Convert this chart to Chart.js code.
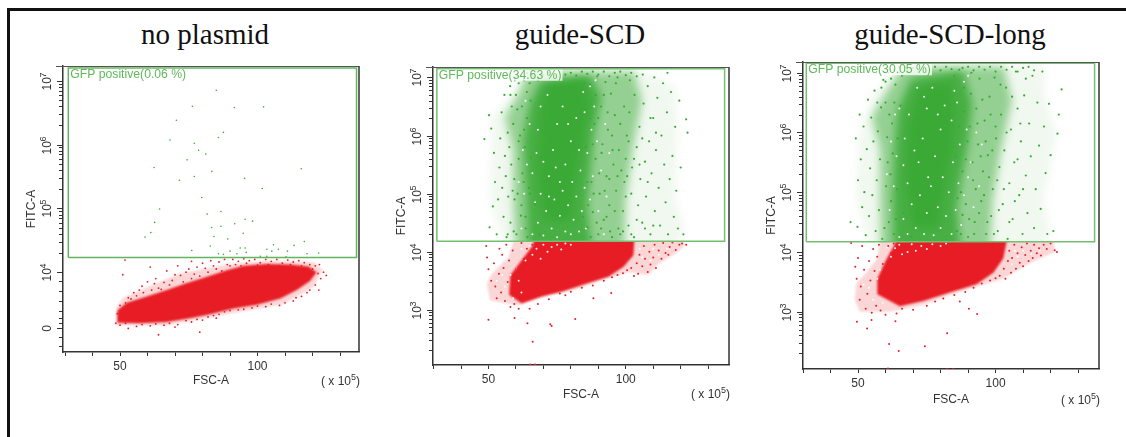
<!DOCTYPE html>
<html>
<head>
<meta charset="utf-8">
<title>GFP positive flow plots</title>
<script src="https://cdn.jsdelivr.net/npm/chart.js@4"></script>
<style>
    html, body { margin: 0; padding: 0; background: #fff; overflow: hidden; }
    #page { position: relative; width: 1126px; height: 437px; }
    #frame { position: absolute; left: 7px; top: 8px; width: 1119px; height: 429px; border-top: 3px solid #111; border-left: 3px solid #111; box-sizing: border-box; }
    .plotTitle { position: absolute; top: 18px; width: 300px; text-align: center; font: 29px "Liberation Serif", serif; color: #111; }
    canvas { position: absolute; }
    canvas.main { filter: blur(0.35px); }
    canvas.softRed { filter: blur(1.2px); }
    canvas.softGreen { filter: blur(4px); }
</style>
</head>
<body>
<div id="page">
    <div id="frame"></div>
    <div class="plotTitle" style="left:55px">no plasmid</div>
    <div class="plotTitle" style="left:430px">guide-SCD</div>
    <div class="plotTitle" style="left:800px">guide-SCD-long</div>

    <canvas id="noPlasmidRed" class="softRed" width="361" height="341" style="left:13px;top:56px"></canvas>
    <canvas id="plotNoPlasmid" class="main" width="361" height="341" style="left:13px;top:56px"></canvas>

    <canvas id="guideRed" class="softRed" width="361" height="353" style="left:383px;top:57px"></canvas>
    <canvas id="guideGreen" class="softGreen" width="361" height="353" style="left:383px;top:57px"></canvas>
    <canvas id="plotGuide" class="main" width="361" height="353" style="left:383px;top:57px"></canvas>

    <canvas id="longRed" class="softRed" width="361" height="362" style="left:753px;top:52px"></canvas>
    <canvas id="longGreen" class="softGreen" width="361" height="362" style="left:753px;top:52px"></canvas>
    <canvas id="plotGuideLong" class="main" width="361" height="362" style="left:753px;top:52px"></canvas>
</div>

<script>
// all y values are decades of FITC-A (4 means 10^4), x values are FSC-A in units of 10^5
const xTicks = [30, 40, 50, 60, 70, 80, 90, 100, 110, 120, 130];
const xLabels = [50, 100];
const minorSteps = [0.301, 0.477, 0.602, 0.699, 0.778, 0.845, 0.903, 0.954];

const gatePercents = ["0.06", "34.63", "30.05"];

// no plasmid
const noPlasmidMajor = [[7, "7"], [6, "6"], [5, "5"], [4, "4"], [3.13, "0"]];
const noPlasmidLow = [3.86, 3.7, 3.55, 3.39, 3.28, 3.2, 2.98, 2.84];
const noPlasmidGate = [[31.2, 4.23], [136, 4.23], [136, 7.2], [31.2, 7.2], [31.2, 4.23]];
const noPlasmidRedCore = [[49, 3.21], [57.3, 3.2], [67, 3.22], [74.3, 3.27], [81.6, 3.33], [91.3, 3.43], [99.8, 3.49], [108.3, 3.59], [114.3, 3.72], [119, 3.86], [121.5, 4.0], [118.6, 4.09], [111.9, 4.12], [103.4, 4.13], [94.9, 4.1], [88.8, 4.03], [81.6, 3.93], [74.3, 3.83], [67, 3.72], [59.7, 3.62], [52.4, 3.52], [49, 3.4]];
const noPlasmidRedFringe = [[48.6, 3.17], [67, 3.17], [88.8, 3.34], [109.4, 3.5], [120.3, 3.77], [123.7, 4.04], [120.3, 4.16], [103.4, 4.18], [88.8, 4.12], [71.8, 3.98], [59.7, 3.76], [51.2, 3.6], [48.8, 3.46]];
const noPlasmidRedDots = [[51.8, 4.19], [51, 3.96], [53, 3.6], [55, 3.68], [57, 3.72], [58, 3.78], [60, 3.85], [61, 4.08], [63, 3.9], [64, 3.75], [66, 3.84], [67, 4.02], [69, 3.87], [71, 4.1], [72, 3.95], [74, 4.0], [75, 4.05], [76, 4.17], [77, 3.97], [78, 4.08], [80, 4.14], [81, 4.06], [83, 4.18], [84, 4.1], [86, 4.16], [88, 4.2], [89, 4.12], [91, 4.2], [93, 4.17], [95, 4.21], [97, 4.18], [99, 4.2], [101, 4.15], [103, 4.2], [105, 4.17], [107, 4.2], [109, 4.14], [111, 4.19], [113, 4.16], [115, 4.18], [117, 4.15], [119, 4.12], [120, 4.05], [122, 3.98], [123, 3.9], [124, 4], [122.5, 4.12], [121, 3.8], [119, 3.72], [116, 3.62], [113, 3.55], [108, 3.48], [103, 3.46], [98, 3.44], [93, 3.41], [88, 3.38], [84, 3.32], [80, 3.25], [76, 3.22], [71, 3.18], [66, 3.17], [61, 3.16], [56, 3.15], [50, 3.17], [48.5, 3.2], [49, 3.35], [50, 3.48], [64, 3.02], [79, 3.06], [53, 3.12], [122.3, 3.72], [125, 3.95], [70, 3.14], [85, 3.28], [52, 3.52], [54, 3.58], [56, 3.63], [58.5, 3.68], [61.5, 3.72], [62.5, 3.82], [65, 3.73], [68, 3.8], [70, 3.96], [73, 3.85], [76, 3.9], [79, 3.94], [82, 4.0], [85, 4.05], [87, 4.02], [90, 4.1], [92, 4.12], [94, 4.1], [96, 4.14], [100, 4.11], [104, 4.12], [108, 4.1], [112, 4.12], [116, 4.1], [121, 4.1], [118, 3.68], [114, 3.6], [110, 3.52], [105, 3.5], [100, 3.47], [95, 3.42], [90, 3.4], [86, 3.34], [82, 3.3], [78, 3.26], [74, 3.24], [68, 3.2], [63, 3.19], [58, 3.18], [52, 3.2]];
const noPlasmidGreenDots = [[85, 6.85], [76.3, 6.6], [70.5, 6.38], [91.6, 6.58], [102.2, 6.59], [68.2, 6.07], [77, 6.02], [85.8, 6.11], [87.6, 6.19], [78.6, 5.91], [81.2, 5.85], [74.4, 5.76], [62.4, 5.64], [83.4, 5.58], [77, 5.5], [71.6, 5.44], [95.3, 5.47], [115.9, 5.62], [101.7, 5.31], [79.7, 5.17], [64.4, 4.99], [86.7, 4.95], [81.7, 4.91], [62.6, 4.78], [91.7, 4.76], [86.7, 4.72], [98.2, 4.8], [95.5, 4.83], [83.3, 4.7], [61.2, 4.62], [59.1, 4.55], [84.2, 4.56], [94.8, 4.61], [89.2, 4.52], [117, 4.48], [113.3, 4.42], [82.8, 4.41], [76.1, 4.34], [95.5, 4.38], [93.7, 4.38], [95.9, 4.31], [105.8, 4.43], [105.2, 4.33], [110.9, 4.33], [85.8, 4.29], [87.6, 4.28], [90, 4.33], [92.5, 4.29], [101, 4.25], [103.4, 4.25], [110.4, 4.24], [118, 4.29], [122.2, 4.3], [103.4, 4.36], [107.6, 4.36]];

// guide-SCD
const guideMajor = [[7, "7"], [6, "6"], [5, "5"], [4, "4"], [3, "3"]];
const guideGate = [[31.2, 4.18], [136, 4.18], [136, 7.15], [31.2, 7.15], [31.2, 4.18]];
const guideRedCore = [[57.5, 3.26], [62.1, 3.11], [69.4, 3.23], [76.7, 3.31], [86.4, 3.46], [93.7, 3.57], [99.2, 3.74], [102.8, 3.94], [103.4, 4.4], [68, 4.4], [66, 4.1], [62, 3.85], [58, 3.6]];
const guideRedFringe = [[49.4, 3.45], [50.6, 3.16], [60.9, 3.08], [71.8, 3.25], [81.6, 3.35], [91.3, 3.51], [101, 3.65], [108.3, 3.6], [111.9, 3.79], [118, 3.97], [121.6, 4.11], [120, 4.4], [60.5, 4.4], [57.3, 3.91], [51.2, 3.62]];
const guideRedDots = [[49.2, 4.1], [49.5, 3.9], [50, 3.7], [51, 3.5], [52, 3.8], [52.5, 3.4], [53, 3.2], [53.8, 3.62], [54, 4.05], [54.6, 3.3], [55, 3.95], [55.5, 3.72], [56, 3.15], [56.5, 4.12], [57, 3.48], [57.5, 3.85], [58, 3.05], [58.8, 4.02], [59.4, 3.1], [60, 3.7], [61, 3.02], [62, 4.15], [63, 3.88], [64, 4.05], [65, 3.02], [66, 4.12], [67, 3.95], [68, 3.1], [70, 4.08], [72, 3.18], [74, 4.13], [76, 3.28], [78, 3.25], [80, 3.31], [84, 3.38], [88, 3.42], [92, 3.5], [95, 3.56], [97, 3.6], [99, 3.63], [100.5, 3.68], [102, 3.72], [103, 3.58], [104, 3.8], [104.5, 3.62], [105, 3.95], [106, 3.75], [106.6, 4.1], [107, 3.88], [108, 3.65], [108.6, 4], [109, 3.78], [110, 3.9], [110.5, 4.12], [111, 3.72], [112, 4.02], [113, 3.88], [113.6, 4.15], [114.5, 3.98], [115.5, 3.95], [116, 4.08], [117, 4.16], [118.2, 4.03], [119.5, 4.12], [120.5, 4.14], [122, 4.12], [50, 2.83], [59.5, 2.86], [64.2, 2.77], [66.1, 2.45], [72.5, 2.75], [73, 2.72], [81.6, 2.84], [88.2, 3.2], [94.7, 3.29], [65.2, 2.06], [67, 2.06]];
const guideRedGaps = [[62, 4.05], [63.5, 3.85], [65, 4.1], [66, 3.95], [67.5, 4.05], [69, 3.88], [70, 4.12], [71.5, 4], [73, 4.08], [75, 4.12], [76.5, 4.04], [78, 4.14], [80, 4.12], [60, 3.7], [61, 3.5], [62, 3.3], [58, 3.6], [56, 3.4], [55, 3.6], [59, 3.2], [106, 3.9], [109, 3.85], [112, 3.95], [115, 4.05], [105, 4.05], [110, 4.05], [53, 3.5]];
const guideTopRed = [[78, 7.17], [112, 7.17]];
const guideTopRedDots = [[114.5, 7.17], [115.6, 7.17], [118.5, 7.17]];
const guideGreenOuter = [[57.3, 3.9], [50.6, 4.89], [51.2, 6.32], [57.3, 6.61], [62.1, 6.95], [67, 7.13], [105.8, 7.13], [118, 6.84], [118.6, 6.03], [118, 4.89], [121.6, 4.37], [115.5, 3.9]];
const guideGreenMid = [[60, 3.9], [59, 4.89], [59, 5.75], [56, 6.32], [61, 6.72], [64, 7.1], [103, 7.1], [106, 6.61], [102.5, 5.75], [100, 4.89], [99.5, 3.9]];
const guideGreenCore = [[64.5, 3.9], [63.8, 4.89], [62.6, 5.92], [65, 6.55], [68.6, 6.93], [87, 7.07], [91, 6.67], [88.5, 6.03], [87, 5.35], [86, 4.77], [88, 3.9]];
const guideGreenInner = [[70.5, 4.54], [68, 5.46], [69, 6.44], [71.5, 6.95], [84, 7], [87, 6.55], [84.5, 6.03], [82, 5.35], [80, 4.54]];
const guideGreenDots = [[48.5, 5.94], [50.2, 6.35], [51, 6.12], [52, 5.7], [52.4, 5.2], [51.6, 4.78], [50.4, 4.42], [53, 4.3], [53.5, 4.9], [54, 5.45], [54.3, 5.95], [54.8, 6.4], [55, 5.1], [55.5, 4.6], [55.8, 6.7], [56, 5.65], [56.3, 5.3], [56.6, 4.25], [57, 6.05], [57.2, 4.95], [57.6, 5.8], [57.9, 6.85], [58, 4.5], [58.3, 5.5], [58.5, 6.5], [58.8, 5.05], [59, 6.2], [59.2, 4.35], [59.4, 5.25], [59.6, 6.95], [60.5, 6.45], [61, 5.9], [61.8, 4.62], [62.4, 5.35], [63, 6.1], [63.6, 4.4], [64, 6.75], [64.8, 5.1], [65.4, 5.62], [66.2, 7.02], [67, 4.82], [68, 6.98], [68.6, 4.3], [86, 4.42], [87, 6.88], [87.5, 5.2], [88, 4.68], [88.6, 6.2], [89, 5.6], [89.6, 7.02], [90, 4.3], [90.5, 5.0], [91, 6.5], [91.5, 5.85], [92, 4.55], [92.6, 6.92], [93, 5.3], [93.5, 6.1], [94, 4.8], [94.6, 6.72], [95, 4.25], [95.5, 5.5], [96, 6.35], [96.5, 5.05], [97, 7.0], [97.5, 5.75], [98, 4.3], [99, 4.7], [99.5, 5.2], [100, 5.6], [100.4, 6.0], [101, 4.45], [101.3, 6.4], [102, 5.0], [102.3, 5.45], [103, 4.25], [103.2, 6.7], [104, 5.8], [104.5, 4.8], [105, 6.15], [105.3, 5.25], [106, 4.5], [106.5, 6.55], [107, 5.55], [107.4, 4.95], [108, 6.85], [108.5, 5.9], [109, 4.3], [109.4, 5.35], [110, 6.3], [110.6, 4.7], [111, 5.75], [111.5, 6.65], [112, 5.1], [112.5, 4.45], [113, 6.0], [113.6, 6.9], [114, 5.5], [114.5, 4.85], [115, 6.4], [115.4, 4.3], [116, 5.25], [116.5, 6.75], [117, 5.65], [117.5, 4.6], [118, 6.15], [118.4, 5.05], [119, 4.4], [119.5, 6.6], [120, 5.45], [121, 4.3], [122, 6.28], [122.5, 6.05], [106.2, 7.05], [110.4, 7.0], [115.2, 7.08], [60.2, 4.3], [60.6, 5.0], [61, 5.6], [61.5, 6.0], [62, 4.8], [62.2, 6.5], [62.8, 5.2], [63.2, 5.8], [63.5, 4.6], [64, 6.3], [64.2, 4.25], [65, 5.0], [65.3, 6.6], [84.5, 4.6], [85, 6.9], [85.5, 5.8], [86, 5.2], [86.3, 4.8], [87, 6.3], [87.2, 4.25], [88, 5.85], [88.3, 5.0], [89, 6.7], [89.4, 4.5], [90, 6.3], [90.3, 5.35], [91, 4.4], [91.2, 5.7], [92, 6.7], [92.3, 5.05], [93, 4.6], [93.4, 6.4], [94, 5.25], [94.3, 4.35], [95, 6.0], [95.2, 5.75], [96, 4.7], [96.4, 6.9], [97, 5.3], [97.3, 4.4], [98, 6.2], [98.4, 5.4], [99, 4.35], [99.4, 6.5], [100, 4.95], [100.5, 5.3], [101, 5.9], [101.5, 6.95], [102, 4.3], [103, 5.6], [104, 4.55], [105, 5.5], [106, 5.95], [107, 4.4], [108, 5.2], [109, 6.3], [110, 4.45], [111, 6.05], [70, 7.05], [72, 7.08], [74, 7.02], [76, 7.1], [78, 7.05], [80, 7.08], [82, 7.03], [84, 7.1], [86, 7.06], [88, 7.1], [90, 7.05], [92, 7.1], [94, 7.02], [96, 7.08], [98, 7.1], [100, 7.04], [102, 7.08], [104, 7.02], [57, 4.3], [58, 6.7], [59.5, 4.9], [60, 6.7], [60.2, 7], [61, 6.9], [62, 7.05], [63, 6.95], [64, 7.08], [65, 6.9], [67, 7.1], [68, 6.95]];
const guideGreenGaps = [[66, 4.3], [68, 4.5], [70, 4.28], [71, 4.7], [73, 4.4], [74, 4.9], [75, 4.25], [76, 4.62], [77, 5.05], [78, 4.35], [79, 4.8], [80, 4.3], [80.5, 5.2], [81, 4.55], [82, 4.95], [83, 4.35], [83.5, 5.4], [84, 4.7], [85, 5.1], [85.5, 4.4], [86, 5.7], [87, 4.9], [87.5, 6.1], [88, 5.3], [69, 5.0], [67, 4.85], [66, 5.35], [67.5, 5.7], [68, 6.1], [69, 6.5], [72, 5.3], [73.5, 5.75], [75, 6.2], [71.5, 6.7], [78, 5.5], [80, 5.9], [82, 6.3], [84.5, 6.75], [77, 6.5], [76, 5.2], [72, 4.95], [70, 5.55], [74.5, 5.45], [79, 6.2], [83, 5.75], [85, 6.4], [88.5, 6.5], [89.5, 5.9], [90, 4.7], [91, 5.4], [92, 4.3], [92.5, 6.2], [93, 4.95], [87, 6.85], [89, 6.95], [65, 6.2], [64, 5.5], [63, 5], [63.5, 6.6], [62, 4.4], [62.5, 5.75], [61, 5.2], [94, 5.7]];

// guide-SCD-long
const longMajor = [[7, "7"], [6, "6"], [5, "5"], [4, "4"], [3, "3"]];
const longGate = [[31.2, 4.17], [136, 4.17], [136, 7.16], [31.2, 7.16], [31.2, 4.17]];
const longRedCore = [[57, 3.29], [65.2, 3.09], [73.7, 3.18], [83.4, 3.32], [93.1, 3.46], [99.2, 3.65], [102.8, 3.89], [105, 4.4], [66, 4.4], [63, 4.1], [60, 3.85], [57, 3.55]];
const longRedFringe = [[49.4, 3.48], [48.8, 3.2], [50.6, 3.0], [61.5, 3.0], [73.7, 3.11], [83.4, 3.28], [95.5, 3.45], [102.8, 3.55], [111.3, 3.78], [117.4, 3.92], [121.6, 4.0], [120.5, 4.4], [59.1, 4.4], [56.7, 3.87], [51.8, 3.59]];
const longRedDots = [[47.5, 4.15], [49, 3.75], [49.5, 3.55], [50, 3.9], [50.6, 3.2], [51, 3.42], [51.5, 4.1], [52.2, 3.7], [52.8, 3.05], [53.4, 3.3], [54, 3.85], [54.5, 3.52], [55, 2.98], [55.5, 4.05], [56, 3.68], [56.6, 3.1], [57, 3.92], [57.6, 4.12], [58.2, 3.02], [59, 3.8], [60, 2.95], [61, 4.1], [62, 3.98], [63, 4.14], [64, 2.97], [66, 3.05], [68, 4.08], [70, 3.03], [72, 4.12], [75, 3.1], [78, 3.17], [81, 3.22], [85, 3.28], [89, 3.33], [92, 3.4], [95, 3.47], [98, 3.52], [100, 3.56], [101.5, 3.6], [103, 3.72], [103.6, 3.55], [104.5, 3.85], [105, 4.02], [105.6, 3.65], [106, 3.9], [106.8, 4.12], [107.4, 3.72], [108, 3.98], [108.8, 3.82], [109.5, 4.08], [110, 3.76], [110.8, 3.95], [111.4, 4.14], [112, 3.85], [112.8, 4.02], [113.5, 3.9], [114, 4.12], [115, 3.98], [115.8, 4.06], [116.5, 3.94], [117.5, 4.12], [118.6, 4.05], [120, 4.14], [121.5, 4.03], [122.3, 4], [53.3, 2.72], [49.6, 2.83], [61.3, 2.46], [64.8, 2.34], [74.3, 2.42], [82.4, 2.64], [60.9, 2.05], [82.4, 2.04], [84.6, 2.04], [93.3, 2.96], [90.3, 3.05], [54.9, 2.86], [63.6, 2.84], [87, 3.17]];
const longRedGaps = [[60.5, 4.08], [62, 3.92], [63.5, 4.06], [65, 4.12], [66, 3.96], [68, 4.0], [69.5, 4.13], [71, 4.02], [73, 4.1], [75, 4.05], [77, 4.13], [80, 4.1], [82, 4.14], [58, 3.7], [57, 3.55], [54, 3.4], [55.5, 3.2], [52, 3.45], [59, 3.15], [106, 3.8], [108, 3.92], [110, 4.02], [113, 3.96], [116, 4.02], [107, 4.02]];
const longGreenOuter = [[55.5, 3.9], [49.4, 4.87], [50.6, 5.98], [55.5, 6.6], [62.7, 6.99], [73.7, 7.13], [117.4, 7.13], [118, 6.54], [122.2, 5.98], [117.4, 4.87], [119.8, 4.31], [114.9, 3.9]];
const longGreenMid = [[58.5, 3.9], [58, 4.87], [58, 5.71], [55, 6.26], [60, 6.65], [66, 7.1], [103, 7.1], [106, 6.54], [102, 5.71], [99, 4.87], [98, 3.9]];
const longGreenCore = [[63, 3.9], [62.6, 4.87], [63.2, 5.71], [64.4, 6.37], [69.2, 6.9], [88, 7.05], [91.5, 6.49], [90.2, 5.87], [88, 5.32], [86, 4.76], [87.5, 3.9]];
const longGreenInner = [[70, 4.42], [67.5, 5.26], [68.5, 6.1], [72, 6.75], [83.5, 6.85], [85, 6.37], [84, 5.71], [81.5, 5.15], [79, 4.42]];
const longGreenDots = [[47.3, 4.5], [49.2, 5.9], [49.8, 4.42], [50, 5.2], [50.6, 6.3], [51, 5.55], [51.5, 4.75], [52, 6.1], [52.3, 5.0], [52.8, 4.28], [53.2, 5.72], [53.6, 6.55], [54, 4.6], [54.4, 5.4], [54.8, 6.25], [55.2, 4.95], [55.6, 5.85], [56, 6.7], [56.4, 4.35], [56.8, 5.2], [57.2, 6.02], [57.6, 4.7], [58, 5.55], [58.4, 6.42], [58.8, 4.22], [59.2, 6.88], [60, 6.5], [60.6, 5.92], [61.2, 4.5], [61.8, 5.3], [62.4, 6.15], [63, 4.3], [63.6, 6.8], [64.2, 5.05], [64.8, 7.0], [65.4, 6.45], [66.6, 4.65], [68, 7.05], [69.5, 4.25], [86, 4.35], [86.8, 7.05], [87.4, 5.0], [88, 4.62], [88.6, 6.75], [89.2, 5.55], [90, 4.25], [90.6, 6.1], [91.2, 7.0], [91.8, 5.2], [92.4, 4.5], [93, 6.4], [93.6, 5.8], [94.2, 6.9], [94.8, 4.85], [95.4, 5.35], [96, 6.2], [96.6, 4.3], [97.2, 5.62], [97.8, 6.6], [98.4, 4.6], [99, 5.05], [99.6, 6.92], [100.2, 5.9], [100.8, 4.35], [101.4, 5.42], [102, 6.3], [102.6, 4.8], [103.2, 5.7], [103.8, 6.75], [104.4, 4.22], [105, 5.15], [105.6, 6.05], [106.2, 4.55], [106.8, 5.5], [107.4, 7.02], [108, 6.4], [108.6, 4.95], [109.2, 5.85], [109.8, 4.3], [110.4, 6.62], [111, 5.28], [111.6, 4.65], [112.2, 6.15], [112.8, 5.6], [113.4, 6.95], [114, 4.4], [114.6, 5.05], [115.2, 6.5], [115.8, 5.78], [116.4, 4.72], [117, 7.02], [117.6, 6.1], [118.2, 5.32], [118.8, 4.3], [119.4, 6.48], [120, 5.62], [121, 4.35], [122.5, 5.98], [123, 6.3], [124, 6.72], [59.6, 4.4], [60.2, 5.1], [60.8, 5.5], [61.4, 6.3], [62, 4.85], [62.6, 5.65], [63.2, 6.5], [63.8, 4.55], [64.4, 5.9], [85, 6.95], [85.6, 5.6], [86.2, 4.9], [86.8, 6.1], [87.4, 4.3], [88, 5.35], [88.6, 6.35], [89.2, 4.8], [89.8, 5.85], [90.4, 4.55], [91, 6.65], [91.6, 5.5], [92.2, 4.3], [92.8, 5.05], [93.4, 6.15], [94, 4.65], [94.6, 5.6], [95.2, 6.55], [95.8, 4.95], [96.4, 5.85], [97, 4.5], [97.6, 5.25], [98.2, 6.3], [98.8, 5.7], [99.4, 4.3], [100, 6.1], [100.6, 5.2], [101.2, 4.7], [101.8, 6.8], [103, 5.05], [104, 6.0], [105, 4.5], [106, 6.6], [107, 4.85], [108, 5.55], [109, 6.15], [110, 5.05], [111, 6.9], [70, 7.08], [72, 7.03], [74, 7.1], [76, 7.05], [78, 7.1], [80, 7.04], [82, 7.1], [84, 7.06], [88, 7.08], [90, 7.1], [92, 7.04], [94, 7.1], [96, 7.05], [98, 7.1], [100, 7.02], [102, 7.1], [104, 7.05], [106, 7.1], [108, 7.02], [110, 7.08], [112, 7.1], [114, 7.04], [57, 6.5], [58.5, 6.75], [60, 6.85], [61, 7.0], [62, 6.9], [63, 7.05], [65, 7.1], [66, 6.95], [67, 7.1]];
const longGreenGaps = [[65, 4.25], [66.5, 4.55], [68, 4.3], [69.5, 4.8], [71, 4.4], [72.5, 4.95], [74, 4.3], [75, 4.65], [76.5, 5.1], [77.5, 4.28], [79, 4.75], [80, 4.4], [80.8, 5.25], [82, 4.6], [83, 5.0], [84, 4.3], [84.5, 5.5], [85.5, 4.7], [86.5, 5.15], [87.5, 4.45], [87, 5.8], [88.5, 4.95], [89.5, 6.05], [90, 5.25], [68, 5.15], [66.5, 5.45], [67, 5.9], [68.5, 6.3], [72, 5.5], [73.5, 5.9], [75, 6.4], [71.5, 6.75], [78, 5.6], [80, 6.05], [81.5, 6.45], [85, 6.7], [77, 6.75], [75.5, 5.25], [70.5, 5.7], [74, 6.6], [79, 6.3], [84, 6.2], [86, 6.5], [88.5, 6.85], [91, 5.5], [92, 4.75], [93, 6.0], [94, 5.1], [90, 6.95], [65, 6.4], [64, 5.6], [63, 5.1], [63.5, 6.3], [61.5, 4.7], [62, 5.85], [60.5, 5.3], [95, 5.8]];

const red = "#e71c24";
const green = "#3aa935";
const axisColor = "#333";

function cloud(points, color) {
    return {
        data: points.map(p => ({ x: p[0], y: p[1] })),
        showLine: true,
        fill: "shape",
        backgroundColor: color,
        borderWidth: 0,
        borderColor: "transparent",
        pointRadius: 0
    };
}

function dots(points, color, radius) {
    return {
        data: points.map(p => ({ x: p[0], y: p[1] })),
        showLine: false,
        backgroundColor: color,
        borderWidth: 0,
        pointRadius: radius
    };
}

function outline(points, color, width) {
    return {
        data: points.map(p => ({ x: p[0], y: p[1] })),
        showLine: true,
        fill: false,
        borderColor: color,
        borderWidth: width,
        pointRadius: 0
    };
}

// draws what Chart.js has no option for: rotated 10^n labels, minor ticks, gate label, unit label
const flowAxesPlugin = {
    id: "flowAxes",
    afterDraw(chart, args, opts) {
        const ctx = chart.ctx;
        const area = chart.chartArea;
        const y = chart.scales.y;
        ctx.save();
        ctx.strokeStyle = "#555";
        ctx.lineWidth = 1;
        ctx.beginPath();
        ctx.moveTo(area.left - 7, area.top + 0.5);
        ctx.lineTo(area.right, area.top + 0.5);
        ctx.stroke();
        ctx.strokeStyle = axisColor;
        ctx.lineWidth = 1.5;
        ctx.beginPath();
        ctx.moveTo(area.right, area.top);
        ctx.lineTo(area.right, area.bottom);
        ctx.stroke();

        ctx.lineWidth = 1;
        opts.minor.forEach(v => {
            if (v < y.min || v > y.max) return;
            const py = Math.round(y.getPixelForValue(v)) + 0.5;
            ctx.beginPath();
            ctx.moveTo(area.left - 4, py);
            ctx.lineTo(area.left, py);
            ctx.stroke();
        });

        ctx.fillStyle = "#333";
        ctx.textBaseline = "middle";
        opts.major.forEach(m => {
            const py = Math.round(y.getPixelForValue(m[0])) + 0.5;
            ctx.beginPath();
            ctx.moveTo(area.left - 6, py);
            ctx.lineTo(area.left, py);
            ctx.stroke();
            ctx.save();
            ctx.translate(area.left - 15, py);
            ctx.rotate(-Math.PI / 2);
            ctx.font = "12px 'Liberation Sans'";
            if (m[1] === "0") {
                ctx.textAlign = "center";
                ctx.fillText("0", 0, 0);
            } else {
                ctx.textAlign = "left";
                ctx.fillText("10", -9, 0);
                ctx.font = "9px 'Liberation Sans'";
                ctx.fillText(m[1], 4, -4);
            }
            ctx.restore();
        });

        // gate label has its own white box over the dots
        const gx = chart.scales.x.getPixelForValue(31.2) + 1;
        const gy = y.getPixelForValue(opts.gateTop) + 1;
        ctx.font = "12.2px 'Liberation Sans'";
        ctx.textAlign = "left";
        const label = "GFP positive(" + opts.percent + " %)";
        const w = ctx.measureText(label).width;
        ctx.fillStyle = "rgba(255,255,255,0.8)";
        ctx.fillRect(gx, gy, w + 2, 11);
        ctx.fillStyle = "#5fb85a";
        ctx.fillText(label, gx + 1, gy + 5.5);

        // (x 10^5)
        ctx.fillStyle = "#333";
        ctx.font = "12px 'Liberation Sans'";
        const ux = area.right - 38;
        const uy = area.bottom + opts.unitOffset;
        ctx.fillText("( x 10", ux, uy);
        const uw = ctx.measureText("( x 10").width;
        ctx.font = "9px 'Liberation Sans'";
        ctx.fillText("5", ux + uw, uy - 4);
        ctx.font = "12px 'Liberation Sans'";
        ctx.fillText(")", ux + uw + 5, uy);
        ctx.restore();
    }
};

function decadeMinors(from, to) {
    const out = [];
    for (let d = from; d <= to; d++) minorSteps.forEach(s => out.push(d + s));
    return out;
}

function makePlot(id, cfg) {
    new Chart(document.getElementById(id), {
        type: "scatter",
        data: { datasets: cfg.datasets },
        plugins: [flowAxesPlugin],
        options: {
            responsive: false,
            animation: false,
            events: [],
            layout: { padding: { top: 10, right: 15 } },
            plugins: {
                legend: { display: false },
                tooltip: { enabled: false },
                flowAxes: {
                    major: cfg.major,
                    minor: cfg.minor,
                    gateTop: cfg.gateTop,
                    percent: cfg.percent,
                    unitOffset: cfg.unitOffset
                }
            },
            scales: {
                x: {
                    type: "linear",
                    min: cfg.xMin,
                    max: cfg.xMax,
                    afterBuildTicks: s => { s.ticks = xTicks.map(v => ({ value: v })); },
                    afterFit: s => { s.height = 45; },
                    grid: { drawOnChartArea: false, tickLength: 4, tickColor: axisColor },
                    border: { color: axisColor, width: 1.5 },
                    ticks: {
                        autoSkip: false,
                        maxRotation: 0,
                        padding: 3,
                        color: "#333",
                        font: { family: "Liberation Sans", size: 12 },
                        callback: v => xLabels.includes(v) ? String(v) : ""
                    },
                    title: {
                        display: true,
                        text: "FSC-A",
                        color: "#333",
                        font: { family: "Liberation Sans", size: 12 },
                        padding: { top: 0, bottom: cfg.xTitleBottom }
                    }
                },
                y: {
                    type: "linear",
                    min: cfg.yMin,
                    max: cfg.yMax,
                    afterFit: s => { s.width = 50; },
                    grid: { drawOnChartArea: false, drawTicks: false },
                    border: { color: axisColor, width: 1.5 },
                    ticks: { display: false },
                    title: {
                        display: true,
                        text: "FITC-A",
                        color: "#333",
                        font: { family: "Liberation Sans", size: 12 },
                        padding: { top: 11, bottom: 0 }
                    }
                }
            }
        }
    });
}

// soft density clouds sit on their own canvas under the dots, cut at the gate line
function makeCloudLayer(id, cfg, datasets, side) {
    const canvas = document.getElementById(id);
    const chart = new Chart(canvas, {
        type: "scatter",
        data: { datasets: datasets },
        options: {
            responsive: false,
            animation: false,
            events: [],
            layout: { padding: { left: 50, top: 10, right: 15, bottom: 45 } },
            plugins: { legend: { display: false }, tooltip: { enabled: false } },
            scales: {
                x: { type: "linear", min: cfg.xMin, max: cfg.xMax, display: false },
                y: { type: "linear", min: cfg.yMin, max: cfg.yMax, display: false }
            }
        }
    });
    const cut = chart.scales.y.getPixelForValue(cfg.gateBottom);
    canvas.style.clipPath = side === "below"
        ? "inset(" + cut + "px 0 0 0)"
        : "inset(" + chart.chartArea.top + "px 0 " + (canvas.height - cut) + "px 0)";
}

const noPlasmidRange = { xMin: 29.27, xMax: 136.9, yMin: 2.75, yMax: 7.23, gateBottom: 4.23 };
const guideRange = { xMin: 29.8, xMax: 137.6, yMin: 2.05, yMax: 7.18, gateBottom: 4.18 };
const longRange = { xMin: 30, xMax: 137.6, yMin: 2.04, yMax: 7.18, gateBottom: 4.17 };

const gapWhite = "rgba(255,255,255,0.95)";

makeCloudLayer("noPlasmidRed", noPlasmidRange, [
    cloud(noPlasmidRedCore, red),
    cloud(noPlasmidRedFringe, "rgba(231,28,36,0.18)")
], "below");
makePlot("plotNoPlasmid", Object.assign({}, noPlasmidRange, {
    major: noPlasmidMajor,
    minor: decadeMinors(4, 7).concat(noPlasmidLow),
    gateTop: 7.2,
    percent: gatePercents[0],
    unitOffset: 30,
    xTitleBottom: 9,
    datasets: [
        outline(noPlasmidGate, "#62b55e", 1.5),
        dots(noPlasmidGreenDots, green, 0.8),
        dots(noPlasmidRedDots, red, 0.9)
    ]
}));

makeCloudLayer("guideRed", guideRange, [
    cloud(guideRedCore, red),
    cloud(guideRedFringe, "rgba(231,28,36,0.18)")
], "below");
makeCloudLayer("guideGreen", guideRange, [
    cloud(guideGreenInner, green),
    cloud(guideGreenCore, "rgba(58,169,53,0.86)"),
    cloud(guideGreenMid, "rgba(58,169,53,0.5)"),
    cloud(guideGreenOuter, "rgba(58,169,53,0.08)")
], "above");
makePlot("plotGuide", Object.assign({}, guideRange, {
    major: guideMajor,
    minor: decadeMinors(2, 7),
    gateTop: 7.15,
    percent: gatePercents[1],
    unitOffset: 30,
    xTitleBottom: 8,
    datasets: [
        outline(guideGate, "#74bf70", 1.5),
        outline(guideTopRed, "#b5322e", 1.5),
        dots(guideTopRedDots, "#b5322e", 0.9),
        dots(guideGreenDots, green, 1.1),
        dots(guideGreenGaps, gapWhite, 1),
        dots(guideRedDots, red, 1),
        dots(guideRedGaps, gapWhite, 1)
    ]
}));

makeCloudLayer("longRed", longRange, [
    cloud(longRedCore, red),
    cloud(longRedFringe, "rgba(231,28,36,0.18)")
], "below");
makeCloudLayer("longGreen", longRange, [
    cloud(longGreenInner, green),
    cloud(longGreenCore, "rgba(58,169,53,0.86)"),
    cloud(longGreenMid, "rgba(58,169,53,0.5)"),
    cloud(longGreenOuter, "rgba(58,169,53,0.08)")
], "above");
makePlot("plotGuideLong", Object.assign({}, longRange, {
    major: longMajor,
    minor: decadeMinors(2, 7),
    gateTop: 7.16,
    percent: gatePercents[2],
    unitOffset: 32,
    xTitleBottom: 7,
    datasets: [
        outline(longGate, "#74bf70", 1.5),
        dots(longGreenDots, green, 1.1),
        dots(longGreenGaps, gapWhite, 1),
        dots(longRedDots, red, 1),
        dots(longRedGaps, gapWhite, 1)
    ]
}));
</script>
</body>
</html>
